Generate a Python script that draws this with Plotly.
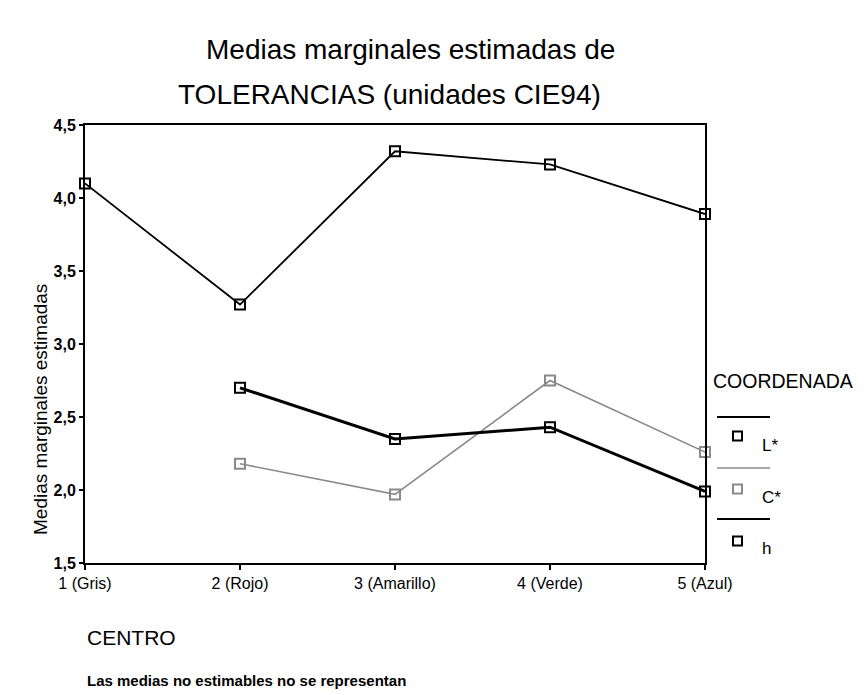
import plotly.graph_objects as go

# ---- data ----
centros = [1, 2, 3, 4, 5]
centro_labels = ["1 (Gris)", "2 (Rojo)", "3 (Amarillo)", "4 (Verde)", "5 (Azul)"]
L_star = [4.10, 3.27, 4.32, 4.23, 3.89]
C_star = [None, 2.18, 1.97, 2.75, 2.26]
h_vals = [None, 2.70, 2.35, 2.43, 1.99]
y_ticks = [1.5, 2.0, 2.5, 3.0, 3.5, 4.0, 4.5]
series_names = ["L*", "C*", "h"]

W, H = 865, 695
OFF = 8  # page body margin
# plot area in page pixels: x 85..705, y 125..563
L, T = 85 - OFF, 125 - OFF
R = W - (705 - OFF)
B = H - (563 - OFF)
PW, PH = W - L - R, H - T - B

def px(xp):
    return (xp - OFF - L) / PW

def py(yp):
    return (H - B - (yp - OFF)) / PH

FONT = "Liberation Sans, Arial, sans-serif"
GREY = "#8a8a8a"

styles = {
    "L*": dict(color="black", width=1.8),
    "C*": dict(color=GREY, width=1.6),
    "h": dict(color="black", width=3.0),
}

fig = go.Figure()
for name, vals in zip(series_names, [L_star, C_star, h_vals]):
    st = styles[name]
    fig.add_trace(go.Scatter(
        x=centros, y=vals, mode="lines+markers", name=name,
        line=dict(color=st["color"], width=st["width"]),
        marker=dict(symbol="square-open", size=10, color=st["color"],
                    line=dict(width=2, color=st["color"])),
        cliponaxis=False, showlegend=False,
    ))

fig.update_layout(
    width=W, height=H,
    margin=dict(l=L, r=R, t=T, b=B),
    paper_bgcolor="white", plot_bgcolor="white",
    separators=",.",
    font=dict(family=FONT, color="black"),
    xaxis=dict(range=[1, 5], tickvals=centros, ticktext=centro_labels,
               showline=True, linecolor="black", linewidth=2, mirror=True,
               ticks="outside", ticklen=5, tickwidth=2, tickcolor="black",
               showgrid=False, zeroline=False,
               tickfont=dict(size=16, family=FONT)),
    yaxis=dict(range=[1.5, 4.5], tickvals=y_ticks, tickformat=".1f",
               showline=True, linecolor="black", linewidth=2, mirror=True,
               ticks="outside", ticklen=4, tickwidth=2, tickcolor="black",
               showgrid=False, zeroline=False,
               tickfont=dict(size=16, family=FONT, weight="bold")),
)

ann = []
ann.append(dict(text="Medias marginales estimadas de", x=px(410), y=py(50),
                xref="paper", yref="paper", showarrow=False,
                font=dict(size=28), xanchor="center", yanchor="middle"))
ann.append(dict(text="TOLERANCIAS (unidades CIE94)", x=px(389), y=py(95),
                xref="paper", yref="paper", showarrow=False,
                font=dict(size=28), xanchor="center", yanchor="middle"))
ann.append(dict(text="Medias marginales estimadas", x=px(40), y=py(410),
                xref="paper", yref="paper", showarrow=False, textangle=-90,
                font=dict(size=19), xanchor="center", yanchor="middle"))
ann.append(dict(text="CENTRO", x=px(85), y=py(637),
                xref="paper", yref="paper", showarrow=False,
                font=dict(size=21), xanchor="left", yanchor="middle"))
ann.append(dict(text="<b>Las medias no estimables no se representan</b>", x=px(85), y=py(680),
                xref="paper", yref="paper", showarrow=False,
                font=dict(size=15), xanchor="left", yanchor="middle"))
ann.append(dict(text="COORDENADA", x=px(711), y=py(381),
                xref="paper", yref="paper", showarrow=False,
                font=dict(size=19.5), xanchor="left", yanchor="middle"))

shapes = []
leg_rows = [(417, 436, 445), (468, 489, 497), (519, 541, 548)]
for name, (ly, my, ty) in zip(series_names, leg_rows):
    st = styles[name]
    shapes.append(dict(type="line", xref="paper", yref="paper",
                       x0=px(717), x1=px(770), y0=py(ly), y1=py(ly),
                       line=dict(color=st["color"], width=min(st["width"], 2))))
    shapes.append(dict(type="rect", xref="paper", yref="paper",
                       x0=px(733), x1=px(742), y0=py(my - 4.5), y1=py(my + 4.5),
                       line=dict(color=st["color"], width=2)))
    ann.append(dict(text=name, x=px(760), y=py(ty), xref="paper", yref="paper",
                    showarrow=False, font=dict(size=17), xanchor="left", yanchor="middle"))

fig.update_layout(annotations=ann, shapes=shapes)
fig.write_html("out.html")
